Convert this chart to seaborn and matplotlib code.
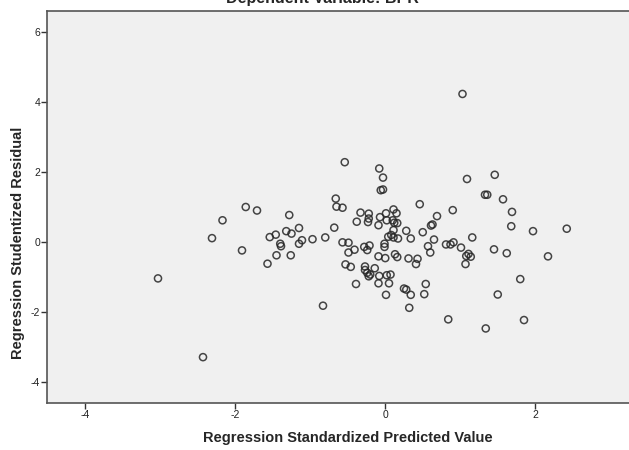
import matplotlib
matplotlib.use("Agg")
import matplotlib.pyplot as plt
import seaborn as sns
import pandas as pd

# Regression residual scatter
pred_std = [
    -3.03, -2.43, -2.31, -2.17, -1.91, -1.86, -1.71, -1.57, -1.54, -1.46,
    -1.45, -1.40, -1.39, -1.32, -1.28, -1.26, -1.25, -1.15, -1.15, -1.11,
    -0.97, -0.83, -0.80, -0.68, -0.66, -0.65, -0.57, -0.57, -0.54, -0.53,
    -0.49, -0.49, -0.46, -0.41, -0.39, -0.38, -0.33, -0.28, -0.27, -0.24,
    -0.24, -0.23, -0.22, -0.22, -0.22, -0.21, -0.14, -0.09, -0.09, -0.09,
    -0.08, -0.07, -0.08, -0.06, -0.03, -0.03, -0.01, -0.01, 0.00, 0.01,
    0.01, 0.02, 0.02, 0.04, 0.05, 0.07, 0.08, 0.10, 0.12, 0.11,
    0.11, 0.11, 0.13, 0.15, 0.16, 0.16, 0.17, 0.25, 0.28, 0.28,
    0.31, 0.32, 0.34, 0.34, 0.41, 0.43, 0.46, 0.50, 0.52, 0.54,
    0.57, 0.60, 0.61, 0.63, 0.65, 0.69, 0.81, 0.84, 0.87, 0.90,
    0.91, 1.01, 1.03, 1.07, 1.08, 1.11, 1.14, 1.09, 1.16, 1.33,
    1.36, 1.34, 1.46, 1.45, 1.50, 1.57, 1.62, 1.68, 1.69, 1.80,
    1.85, 1.97, 2.17, 2.42, -0.27, -0.20,
]
resid_stud = [
    -1.05, -3.30, 0.10, 0.61, -0.25, 0.99, 0.89, -0.63, 0.13, 0.20,
    -0.39, -0.06, -0.13, 0.30, 0.76, -0.39, 0.23, 0.39, -0.06, 0.04,
    0.07, -1.83, 0.12, 0.40, 1.23, 1.00, 0.97, -0.02, 2.27, -0.65,
    -0.03, -0.31, -0.72, -0.23, -1.21, 0.57, 0.83, -0.15, -0.71, -0.24,
    -0.89, 0.56, 0.80, 0.66, -0.99, -0.11, -0.76, -0.42, 0.47, -1.19,
    2.09, 0.70, -0.98, 1.47, 1.49, 1.83, -0.06, -0.15, -0.47, -1.52,
    0.81, 0.61, -0.96, 0.14, -1.19, -0.94, 0.19, 0.61, 0.54, 0.92,
    0.33, 0.12, -0.36, 0.81, 0.53, -0.44, 0.09, -1.34, -1.37, 0.31,
    -0.48, -1.89, 0.09, -1.52, -0.64, -0.49, 1.07, 0.27, -1.50, -1.21,
    -0.13, -0.31, 0.46, 0.49, 0.06, 0.73, -0.08, -2.22, -0.08, 0.90,
    -0.02, -0.17, 4.22, -0.64, -0.41, -0.35, -0.43, 1.79, 0.12, 1.34,
    1.34, -2.48, 1.91, -0.22, -1.51, 1.21, -0.33, 0.44, 0.85, -1.07,
    -2.24, 0.30, -0.42, 0.37, -0.81, -0.94,
]
x_ticks = [-4, -2, 0, 2]
y_ticks = [-4, -2, 0, 2, 4, 6]

df = pd.DataFrame({"pred": pred_std, "resid": resid_stud})

sns.set_theme(style="white")
plt.rcParams["font.family"] = ["Liberation Sans", "DejaVu Sans"]

fig = plt.figure(figsize=(6.29, 4.5), dpi=100)
ax = fig.add_axes([47 / 629, 1 - 403 / 450, 1 - 47 / 629, (403 - 11) / 450])
ax.set_facecolor("#f0f0f0")

sns.scatterplot(data=df, x="pred", y="resid", ax=ax, marker="o",
                facecolor="none", edgecolor="#262626", linewidth=1.1,
                s=26, alpha=0.85)

ax.set_xlim(-4.51, 3.25)
ax.set_ylim(-4.61, 6.59)
ax.set_xticks(x_ticks)
ax.set_yticks(y_ticks)
ax.set_xticklabels([str(t) for t in x_ticks], fontsize=7.5, color="#222222")
ax.set_yticklabels([str(t) for t in y_ticks], fontsize=7.5, color="#222222")
ax.tick_params(axis="both", direction="out", length=4, width=1,
               color="#333333", pad=1, left=True, bottom=True)

for side in ["left", "bottom", "top"]:
    ax.spines[side].set_visible(True)
    ax.spines[side].set_color("#555555")
    ax.spines[side].set_linewidth(1.2)
ax.spines["right"].set_visible(False)

ax.set_xlabel("")
ax.set_ylabel("")
fig.text(348 / 629, 1 - 438 / 450, "Regression Standardized Predicted Value",
         ha="center", va="center", fontsize=10.5, fontweight="bold")
fig.text(18 / 629, 1 - 243 / 450, "Regression Studentized Residual",
         ha="center", va="center", rotation=90, fontsize=10.5, fontweight="bold")
fig.text(322 / 629, 1 + 2 / 450, "Dependent Variable: BPR",
         ha="center", va="center", fontsize=11.5, fontweight="bold")

fig.savefig("out.png", dpi=100)
